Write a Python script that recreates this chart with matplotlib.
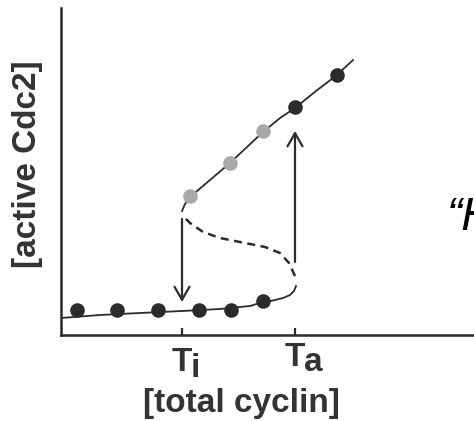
import matplotlib.pyplot as plt

plt.rcParams['font.family'] = ['Liberation Sans', 'DejaVu Sans']

# 任意单位
ti = 12.1
ta = 23.4

# 下稳定支
lower_x = [0.0, 3.9, 7.9, 12.1, 15.9, 18.9, 20.2, 21.0, 22.2, 22.9, 23.3, 23.5]
lower_y = [1.7, 2.0, 2.2, 2.4, 2.6, 2.9, 3.3, 3.4, 3.7, 4.0, 4.4, 4.9]

# 不稳定支 (虚线)
mid_x = [23.4, 22.8, 21.9, 20.4, 17.9, 15.9, 14.2, 12.9, 12.1]
mid_y = [5.9, 7.2, 8.2, 8.8, 9.3, 9.7, 10.3, 11.2, 12.0]

# 上稳定支
upper_x = [12.1, 12.4, 12.9, 14.9, 16.9, 18.6, 20.2, 21.9, 23.4, 25.5, 27.6, 29.2]
upper_y = [12.4, 13.1, 13.8, 15.5, 17.2, 18.8, 20.3, 21.7, 22.7, 24.4, 26.0, 27.5]

# 数据点
black_x = [1.6, 5.6, 9.7, 13.8, 17.0, 20.2, 23.4, 27.6]
black_y = [2.5, 2.5, 2.5, 2.5, 2.5, 3.4, 22.8, 26.0]
gray_x = [12.9, 16.9, 20.2]
gray_y = [13.9, 17.2, 20.4]

# 箭头 (起点, 终点)
down_arrow = (11.6, 3.3)
up_arrow = (7.3, 20.4)

ink = '#2b2b2b'
txt = '#333333'

W, H = 474, 421
fig = plt.figure(figsize=(W / 100, H / 100), dpi=100)
ax = fig.add_axes([61 / W, (H - 335) / H, (W - 61) / W, (335 - 8) / H])
ax.set_xlim(0, 41.3)
ax.set_ylim(0, 32.7)

ax.plot(lower_x, lower_y, color=ink, lw=1.3, zorder=2)
ax.plot(upper_x, upper_y, color=ink, lw=1.3, zorder=2)
ax.plot(mid_x, mid_y, color=ink, lw=1.8, linestyle=(0, (3.2, 2.2)), zorder=2)

ax.plot(black_x, black_y, 'o', color=ink, ms=10.5, mec='none', zorder=3)
ax.plot(gray_x, gray_y, 'o', color='#a9a9a9', ms=10.5, mec='none', zorder=3)

arrow_kw = dict(arrowstyle='->, head_length=0.47, head_width=0.27', color=ink,
                lw=1.6, mutation_scale=20, shrinkA=0, shrinkB=0)
ax.annotate('', xy=(ti, down_arrow[1]), xytext=(ti, down_arrow[0]), arrowprops=arrow_kw)
ax.annotate('', xy=(ta, up_arrow[1]), xytext=(ta, up_arrow[0]), arrowprops=arrow_kw)

for s in ['top', 'right']:
    ax.spines[s].set_visible(False)
for s in ['left', 'bottom']:
    ax.spines[s].set_linewidth(1.8)
    ax.spines[s].set_color(ink)
ax.set_yticks([])
ax.set_xticks([ti, ta])
ax.set_xticklabels([])
ax.tick_params(axis='x', direction='in', length=5, width=1.6, color=ink)

# 刻度标签 T_i, T_a
lab = dict(xycoords=('data', 'axes fraction'), textcoords='offset pixels',
           fontsize=24, fontweight='bold', color=txt, va='baseline', ha='left')
ax.annotate('T', xy=(ti, 0), xytext=(-10, -36), **lab)
ax.annotate('i', xy=(ti, 0), xytext=(9, -42), **lab)
ax.annotate('T', xy=(ta, 0), xytext=(-10, -31), **lab)
ax.annotate('a', xy=(ta, 0), xytext=(9, -36), **lab)

fig.text(28 / W, 1 - 164 / H, '[active Cdc2]', rotation=90, ha='center', va='center',
         fontsize=24, fontweight='bold', color=txt)
fig.text(241 / W, 1 - 412 / H, '[total cyclin]', ha='center', va='baseline',
         fontsize=24, fontweight='bold', color=txt)

# 右侧被裁切的文字 (原图即如此)
fig.text(447 / W, 1 - 230 / H, '\u201cH', ha='left', va='baseline',
         fontsize=33, style='italic', color='black')

fig.savefig('out.png', dpi=100)
